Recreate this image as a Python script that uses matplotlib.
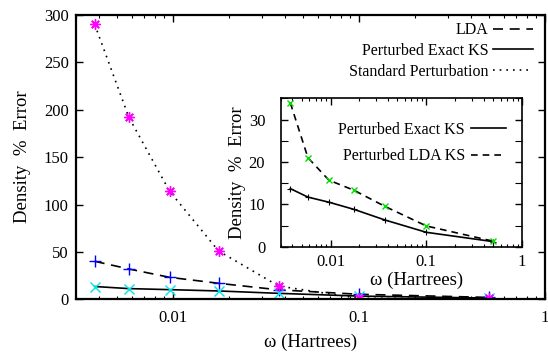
import matplotlib
matplotlib.use("Agg")
import matplotlib.pyplot as plt
from matplotlib.lines import Line2D
from matplotlib.ticker import LogLocator, FixedLocator, NullFormatter, FuncFormatter

plt.rcParams['font.family'] = ['Liberation Serif', 'DejaVu Serif']
plt.rcParams['font.size'] = 12

# frequencies (Hartrees)
omega = [0.0038, 0.0058, 0.0096, 0.0176, 0.037, 0.1, 0.5]

# main panel: density % error
lda = [40.1, 32.0, 23.2, 16.9, 10.0, 5.3, 2.0]
exact_ks = [13.5, 11.3, 10.2, 8.8, 6.3, 3.4, 1.3]
standard = [290, 192, 114, 51, 14, 1.0, 1.0]

# inset: perturbed KS errors
inset_exact = [13.7, 11.7, 10.5, 8.8, 6.3, 3.4, 1.2]
inset_lda = [33.9, 21.0, 15.7, 13.3, 9.5, 4.9, 1.3]

main_yticks = [0, 50, 100, 150, 200, 250, 300]
inset_yticks = [0, 10, 20, 30]

LABEL_FS = 13.5
LEGEND_FS = 11.5


def fmt_x(v, pos):
    return {0.01: '0.01', 0.1: '0.1', 1.0: '1'}.get(round(v, 4), '')


def style_axes(ax, lw, ypad, xpad):
    ax.set_xscale('log')
    for s in ax.spines.values():
        s.set_linewidth(lw)
    ax.xaxis.set_major_locator(FixedLocator([0.01, 0.1, 1.0]))
    ax.xaxis.set_minor_locator(LogLocator(base=10, subs=range(2, 10)))
    ax.xaxis.set_major_formatter(FuncFormatter(fmt_x))
    ax.xaxis.set_minor_formatter(NullFormatter())
    ax.tick_params(which='both', direction='in', top=True, right=True)
    ax.tick_params(which='major', length=5, width=1)
    ax.tick_params(which='minor', length=2.5, width=0.8)
    ax.tick_params(axis='y', pad=ypad)
    ax.tick_params(axis='x', pad=xpad)


fig = plt.figure(figsize=(5.48, 3.52), dpi=100)

ax = fig.add_axes([0.138, 0.1497, 0.8565, 0.8077])
style_axes(ax, 1.6, 5, 8)
ax.set_xlim(0.003, 1)
ax.set_ylim(0, 300)
ax.set_yticks(main_yticks)

ax.plot(omega, lda, color='black', lw=1.2, ls=(0, (6, 4)), label='LDA')
ax.plot(omega, exact_ks, color='black', lw=1.2, ls='-', label='Perturbed Exact KS')
ax.plot(omega, standard, color='black', lw=1.2, ls=(0, (1, 3)), label='Standard Perturbation')
ax.plot(omega, lda, ls='none', marker='+', ms=8, mew=1, color='#0000ff')
ax.plot(omega, exact_ks, ls='none', marker='x', ms=7, mew=1, color='#00e5e5')
ax.plot(omega, standard, ls='none', marker=(8, 2, 0), ms=7.5, mew=1, color='#ff00ff')

ax.set_xlabel('ω (Hartrees)', fontsize=LABEL_FS, labelpad=5)
ax.set_ylabel('Density  %  Error', fontsize=LABEL_FS, labelpad=9)

handles = [Line2D([], [], color='black', lw=1.2, ls=(0, (6, 4))),
           Line2D([], [], color='black', lw=1.2, ls='-'),
           Line2D([], [], color='black', lw=1.2, ls=(0, (1, 3)))]
ax.legend(handles, ['LDA', 'Perturbed Exact KS', 'Standard Perturbation'],
          loc='upper right', bbox_to_anchor=(0.9745, 0.975), frameon=False,
          fontsize=LEGEND_FS, markerfirst=False, handlelength=2.5,
          handletextpad=0.3, labelspacing=0.3, borderpad=0, borderaxespad=0)

# inset
ins = fig.add_axes([0.5119, 0.2991, 0.4407, 0.4216])
ins.set_facecolor('white')
style_axes(ins, 1.2, 11, 5)
ins.set_xlim(0.003, 1)
ins.set_ylim(0, 35)
ins.set_yticks(inset_yticks)
ins.set_yticks([5, 15, 25, 35], minor=True)
ins.tick_params(axis='y', which='minor', length=5)

ins.plot(omega, inset_exact, color='black', lw=1.2, ls='-', marker='+', ms=4, mew=0.8)
ins.plot(omega, inset_lda, color='black', lw=1.2, ls=(0, (4, 3)))
ins.plot(omega, inset_lda, ls='none', marker='x', ms=4, mew=1, color='#00dd00')

ins.set_xlabel('ω (Hartrees)', fontsize=LABEL_FS)
ins.xaxis.set_label_coords(0.564, -0.17)
ins.set_ylabel('Density  %  Error', fontsize=LABEL_FS, labelpad=2)

ih = [Line2D([], [], color='black', lw=1.2, ls='-'),
      Line2D([], [], color='black', lw=1.2, ls=(0, (4, 3)))]
ins.legend(ih, ['Perturbed Exact KS', 'Perturbed LDA KS'],
           loc='upper right', bbox_to_anchor=(0.935, 0.84), frameon=False,
           fontsize=LEGEND_FS, markerfirst=False, handlelength=2.2,
           handletextpad=0.4, labelspacing=0.65, borderpad=0, borderaxespad=0)

fig.savefig('out.png', dpi=100)
